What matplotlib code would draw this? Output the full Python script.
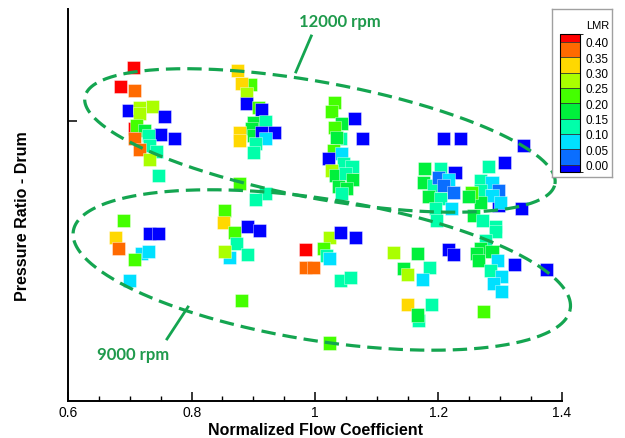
import numpy as np
import matplotlib
matplotlib.use("Agg")
import matplotlib.pyplot as plt
from matplotlib.colors import ListedColormap, BoundaryNorm
import matplotlib as mpl

plt.rcParams['font.family'] = ['Liberation Sans', 'DejaVu Sans']

# ---------------- data ----------------
flow_12000 = [0.705, 0.684, 0.707, 0.698, 0.716, 0.716, 0.736, 0.756, 0.708, 0.711,
              0.724, 0.749, 0.772, 0.707, 0.730, 0.732, 0.715, 0.743, 0.731, 0.746,
              0.874, 0.895, 0.881, 0.889, 0.889, 0.908, 0.914, 0.900, 0.919, 0.897,
              0.877, 0.877, 0.900, 0.914, 0.935, 0.919, 0.903, 0.900, 0.878, 0.919, 0.903,
              1.032, 1.026, 1.064, 1.043, 1.032, 1.042, 1.035, 1.077, 1.030, 1.043,
              1.022, 1.046, 1.060, 1.026, 1.034, 1.049, 1.061, 1.038, 1.051, 1.043,
              1.208, 1.236, 1.338, 1.307, 1.281, 1.178, 1.203, 1.227, 1.176, 1.192,
              1.200, 1.216, 1.208, 1.224, 1.268, 1.287, 1.268, 1.297, 1.184, 1.203,
              1.297, 1.287, 1.300, 1.268, 1.254, 1.249, 1.335, 1.222, 1.195, 1.257,
              1.197, 1.272, 1.292]
pr_12000 = [2.669, 2.574, 2.552, 2.452, 2.469, 2.439, 2.472, 2.424, 2.360, 2.377,
            2.352, 2.332, 2.310, 2.310, 2.327, 2.277, 2.255, 2.249, 2.205, 2.127,
            2.652, 2.582, 2.589, 2.539, 2.485, 2.469, 2.455, 2.394, 2.397, 2.360,
            2.340, 2.300, 2.327, 2.340, 2.340, 2.314, 2.285, 2.240, 2.085, 2.039, 2.005,
            2.494, 2.447, 2.410, 2.385, 2.369, 2.310, 2.319, 2.314, 2.252, 2.235,
            2.210, 2.185, 2.174, 2.152, 2.127, 2.135, 2.107, 2.072, 2.060, 2.035,
            2.310, 2.310, 2.277, 2.194, 2.172, 2.160, 2.164, 2.144, 2.090, 2.077,
            2.119, 2.105, 2.077, 2.044, 2.102, 2.094, 2.052, 2.052, 2.024, 2.010,
            1.977, 2.027, 1.994, 1.994, 2.040, 2.024, 1.960, 1.960, 1.960, 1.927,
            1.902, 1.902, 1.870]
lmr_12000 = [0.41, 0.41, 0.37, -0.01, 0.27, 0.27, 0.27, -0.01, 0.41, 0.22,
             0.17, -0.01, -0.01, 0.37, 0.12, 0.12, 0.37, 0.12, 0.27, 0.12,
             0.32, 0.22, 0.32, 0.27, -0.01, 0.22, -0.01, 0.17, 0.12, 0.17,
             0.32, 0.32, 0.17, -0.01, -0.01, 0.07, 0.12, 0.12, 0.22, 0.12, 0.12,
             0.22, 0.22, -0.01, 0.17, 0.22, 0.12, 0.17, -0.01, 0.22, 0.07,
             -0.01, 0.12, 0.12, 0.27, 0.17, 0.12, 0.17, 0.17, 0.17, 0.12,
             -0.01, -0.01, -0.01, -0.01, 0.12, 0.17, 0.12, -0.01, 0.17, 0.12,
             0.02, 0.07, 0.02, 0.02, 0.12, 0.07, 0.12, 0.02, 0.17, 0.12,
             -0.01, 0.07, 0.07, 0.17, 0.22, 0.17, -0.01, 0.07, 0.12, 0.17,
             0.12, 0.12, 0.12]

flow_9000 = [0.689, 0.676, 0.681, 0.732, 0.746, 0.719, 0.730, 0.707, 0.700,
             0.853, 0.851, 0.869, 0.890, 0.910, 0.873, 0.861, 0.853, 0.891, 0.881,
             0.985, 0.985, 0.997, 1.023, 1.013, 1.041, 1.066, 1.019, 1.023, 1.041, 1.058, 1.024,
             1.128, 1.166, 1.144, 1.150, 1.185, 1.174, 1.150, 1.189, 1.168, 1.166,
             1.216, 1.224, 1.293, 1.277, 1.268, 1.262, 1.265, 1.287, 1.296, 1.323,
             1.376, 1.284, 1.303, 1.289, 1.303, 1.273]
pr_9000 = [1.902, 1.819, 1.764, 1.835, 1.835, 1.735, 1.747, 1.707, 1.602,
           1.952, 1.894, 1.840, 1.874, 1.852, 1.789, 1.719, 1.749, 1.732, 1.502,
           1.757, 1.665, 1.669, 1.815, 1.764, 1.840, 1.815, 1.727, 1.714, 1.602, 1.619, 1.290,
           1.744, 1.735, 1.660, 1.632, 1.669, 1.607, 1.482, 1.482, 1.402, 1.430,
           1.757, 1.732, 1.847, 1.802, 1.760, 1.735, 1.702, 1.745, 1.702, 1.682,
           1.657, 1.652, 1.622, 1.585, 1.547, 1.449]
lmr_9000 = [0.22, 0.32, 0.37, -0.01, -0.01, 0.07, 0.07, 0.22, 0.07,
            0.22, 0.32, 0.22, -0.01, -0.01, 0.12, 0.07, 0.27, 0.12, 0.22,
            0.41, 0.37, 0.37, 0.27, 0.22, -0.01, -0.01, 0.12, 0.07, 0.12, 0.12, 0.22,
            0.27, 0.17, 0.17, 0.27, 0.12, 0.07, 0.32, 0.12, 0.12, 0.17,
            -0.01, -0.01, 0.12, 0.12, 0.17, 0.17, 0.17, 0.17, 0.07, -0.01,
            -0.01, 0.12, 0.07, 0.07, 0.07, 0.22]

lmr_levels = [0.0, 0.05, 0.10, 0.15, 0.20, 0.25, 0.30, 0.35, 0.40]
band_colors = ['#0000ff', '#0a6eff', '#00e0ff', '#00ffaa', '#00f03c',
               '#44ff00', '#aaff00', '#ffd800', '#ff6a00', '#ff0000']
x_ticks = [0.6, 0.8, 1.0, 1.2, 1.4]
x_tick_labels = ['0.6', '0.8', '1', '1.2', '1.4']

# ---------------- figure ----------------
fig = plt.figure(figsize=(6.25, 4.39), dpi=100)
ax = fig.add_axes([0.1093, 0.0843, 0.7894, 0.893])

bounds = [-0.025] + lmr_levels + [0.425]
cmap = ListedColormap(band_colors)
norm = BoundaryNorm(bounds, cmap.N)

for fl, pr, lm in [(flow_12000, pr_12000, lmr_12000), (flow_9000, pr_9000, lmr_9000)]:
    ax.scatter(fl, pr, c=lm, cmap=cmap, norm=norm, marker='s', s=88,
               edgecolors=(1, 1, 1, 0.55), linewidths=0.5, zorder=3)

ax.set_xlim(0.6, 1.4)
ax.set_ylim(1.0, 2.96)
ax.set_xticks(x_ticks)
ax.set_xticklabels(x_tick_labels)
ax.set_xticks(np.arange(0.65, 1.4, 0.05), minor=True)
ax.set_yticks([2.4])
ax.set_yticklabels([''])
ax.tick_params(axis='both', which='major', direction='in', length=6.5, width=1.1,
               labelsize=10, pad=3)
ax.tick_params(axis='x', which='minor', direction='in', length=3.8, width=1.0)
for s in ['top', 'right']:
    ax.spines[s].set_visible(False)
for s in ['left', 'bottom']:
    ax.spines[s].set_linewidth(1.4)

ax.set_xlabel('Normalized Flow Coefficient', fontsize=11.5, fontweight='bold', labelpad=2)
ax.set_ylabel('Pressure Ratio - Drum', fontsize=11.5, fontweight='bold')
ax.yaxis.set_label_coords(-0.078, 0.475)

# ellipses (pixel-proportional scaling: 616.7 px per x unit, 200 px per y unit)
sx, sy = 616.7, 200.0
green = '#14a550'
def draw_ellipse(cx, cy, a, b, ang):
    t = np.linspace(0, 2 * np.pi, 400)
    th = np.deg2rad(ang)
    px = a * np.cos(t) * np.cos(th) - b * np.sin(t) * np.sin(th)
    py = a * np.cos(t) * np.sin(th) + b * np.sin(t) * np.cos(th)
    ax.plot(cx + px / sx, cy + py / sy, color=green, lw=2.3,
            dashes=(4.5, 2.2), zorder=4, clip_on=False)

draw_ellipse(1.008, 2.3025, 239, 58, -10.5)
draw_ellipse(1.011, 1.655, 251.5, 71, -8.9)

txtc = '#1f9a4c'
ax.text(1.041, 2.90, '12000 rpm', color=txtc, fontsize=12, fontweight='bold',
        family=['Lato', 'DejaVu Sans'], ha='center', va='center')
ax.plot([0.994, 0.969], [2.825, 2.645], color=green, lw=2.0, zorder=4)
ax.text(0.705, 1.235, '9000 rpm', color=txtc, fontsize=12, fontweight='bold',
        family=['Lato', 'DejaVu Sans'], ha='center', va='center')
ax.plot([0.760, 0.794], [1.31, 1.47], color=green, lw=2.0, zorder=4)

# legend box
fax = fig.add_axes([0.8835, 0.595, 0.095, 0.383])
fax.set_xticks([])
fax.set_yticks([])
for s in fax.spines.values():
    s.set_color('#a0a0a0')
    s.set_linewidth(1.0)
fax.text(0.76, 0.905, 'LMR', fontsize=8, ha='center', va='center',
         transform=fax.transAxes)
cax = fig.add_axes([0.896, 0.605, 0.032, 0.315])
cb = mpl.colorbar.ColorbarBase(cax, cmap=cmap, norm=norm, boundaries=bounds,
                               spacing='proportional', ticks=lmr_levels,
                               drawedges=True)
cb.ax.set_yticklabels([f'{v:.2f}' for v in lmr_levels])
cb.ax.tick_params(length=0, labelsize=8.5, pad=4)
cb.outline.set_linewidth(0.8)
cb.dividers.set_linewidth(0.6)
cb.dividers.set_color('#333333')

fig.savefig('out.png', dpi=100)
